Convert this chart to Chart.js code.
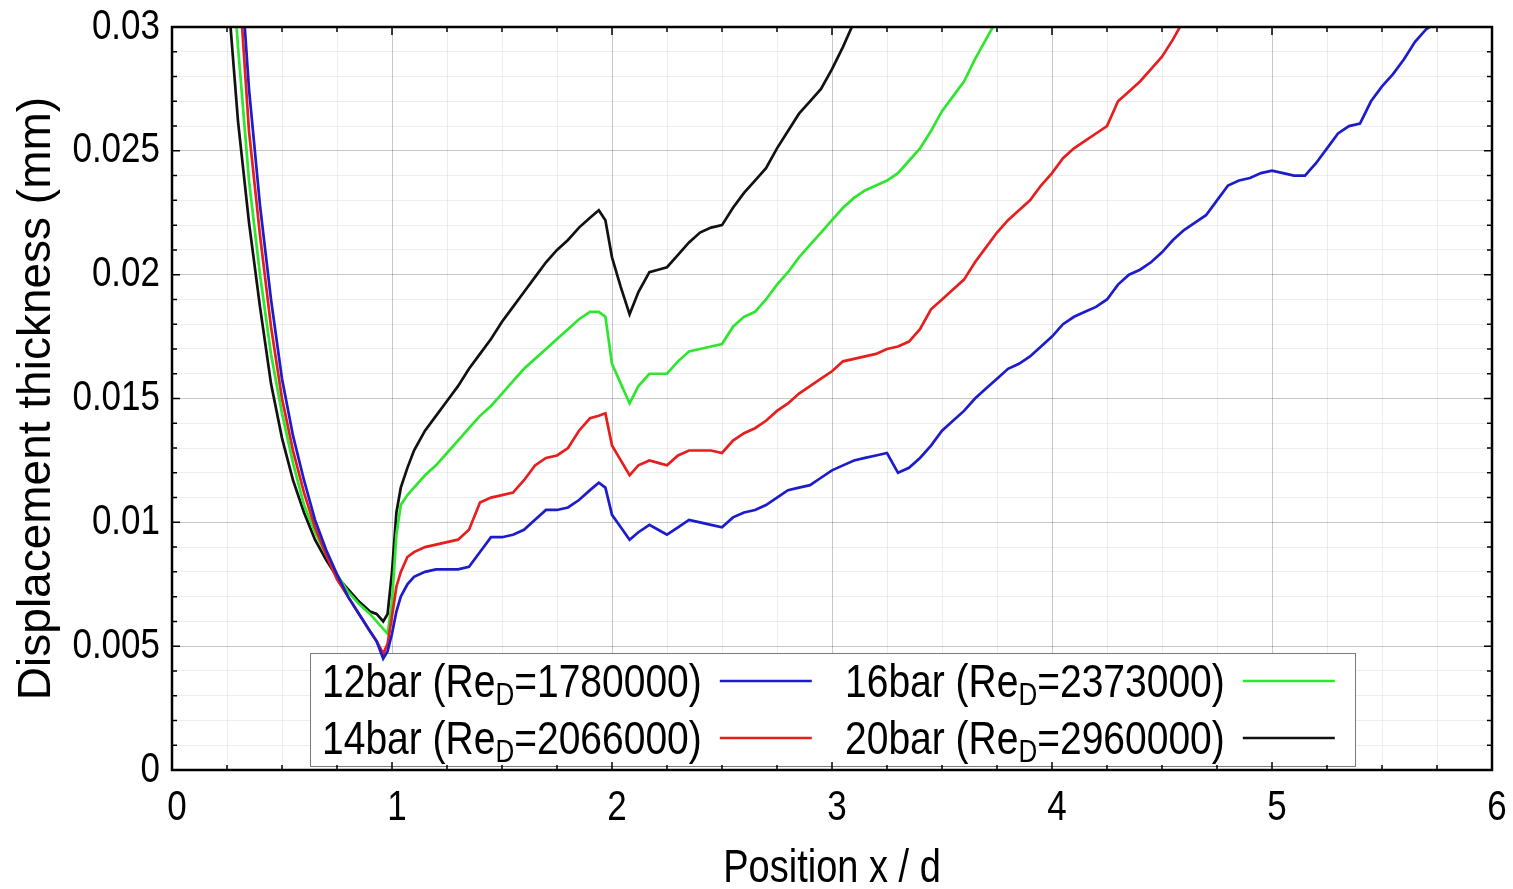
<!DOCTYPE html>
<html>
<head>
<meta charset="utf-8">
<script src="https://cdn.jsdelivr.net/npm/chart.js@4.4.1/dist/chart.umd.min.js"></script>
<style>
  html, body { margin: 0; padding: 0; background: #fff; }
  canvas { display: block; }
</style>
</head>
<body>
<canvas id="chart" width="1513" height="889"></canvas>
<script>
// x / d sample positions shared by all four runs
const positions = [
  0.25, 0.30, 0.35, 0.40, 0.45, 0.50, 0.55, 0.60, 0.65, 0.70, 0.75, 0.80, 0.85, 0.90,
  0.93, 0.96, 0.98, 1.00, 1.02, 1.04, 1.07, 1.10,
  1.15, 1.20, 1.25, 1.30, 1.35, 1.40, 1.45, 1.50, 1.55, 1.60, 1.65, 1.70, 1.75, 1.80, 1.85, 1.90,
  1.94, 1.97, 2.00, 2.04, 2.08, 2.12, 2.17, 2.21,
  2.25, 2.30, 2.35, 2.40, 2.45, 2.50, 2.55, 2.60, 2.65, 2.70,
  2.75, 2.80, 2.85, 2.90, 2.95, 3.00, 3.05, 3.10, 3.15, 3.20,
  3.25, 3.30, 3.35, 3.40, 3.45, 3.50, 3.55, 3.60, 3.65, 3.70,
  3.75, 3.80, 3.85, 3.90, 3.95, 4.00, 4.05, 4.10, 4.15, 4.20,
  4.25, 4.30, 4.35, 4.40, 4.45, 4.50, 4.55, 4.60, 4.65, 4.70,
  4.75, 4.80, 4.85, 4.90, 4.95, 5.00, 5.05, 5.10, 5.15, 5.20,
  5.25, 5.30, 5.35, 5.40, 5.45, 5.50, 5.55, 5.60, 5.65, 5.70,
  5.75
];

// displacement thickness (mm); each run stops once it leaves the top of the plot
const thickness12bar = [
  0.0420, 0.0340, 0.0275, 0.0228, 0.0190, 0.0158, 0.0135, 0.0117, 0.0101, 0.0089, 0.0079, 0.0070, 0.0063, 0.0056,
  0.0052, 0.0045, 0.0048, 0.0055, 0.0064, 0.0070, 0.0075, 0.0078,
  0.0080, 0.0081, 0.0081, 0.0081, 0.0082, 0.0088, 0.0094, 0.0094, 0.0095, 0.0097, 0.0101, 0.0105, 0.0105, 0.0106, 0.0109, 0.0113,
  0.0116, 0.0114, 0.0103, 0.0098, 0.0093, 0.0096, 0.0099, 0.0097,
  0.0095, 0.0098, 0.0101, 0.0100, 0.0099, 0.0098, 0.0102, 0.0104, 0.0105, 0.0107,
  0.0110, 0.0113, 0.0114, 0.0115, 0.0118, 0.0121, 0.0123, 0.0125, 0.0126, 0.0127,
  0.0128, 0.0120, 0.0122, 0.0126, 0.0131, 0.0137, 0.0141, 0.0145, 0.0150, 0.0154,
  0.0158, 0.0162, 0.0164, 0.0167, 0.0171, 0.0175, 0.0180, 0.0183, 0.0185, 0.0187,
  0.0190, 0.0196, 0.0200, 0.0202, 0.0205, 0.0209, 0.0214, 0.0218, 0.0221, 0.0224,
  0.0230, 0.0236, 0.0238, 0.0239, 0.0241, 0.0242, 0.0241, 0.0240, 0.0240, 0.0245,
  0.0251, 0.0257, 0.0260, 0.0261, 0.0270, 0.0276, 0.0281, 0.0287, 0.0294, 0.0299,
  0.0302
];
const thickness14bar = [
  0.0400, 0.0325, 0.0258, 0.0216, 0.0179, 0.0150, 0.0129, 0.0112, 0.0098, 0.0087, 0.0077, 0.0070, 0.0063, 0.0056,
  0.0052, 0.0047, 0.0051, 0.0062, 0.0074, 0.0080, 0.0086, 0.0088,
  0.0090, 0.0091, 0.0092, 0.0093, 0.0097, 0.0108, 0.0110, 0.0111, 0.0112, 0.0117, 0.0123, 0.0126, 0.0127, 0.0130, 0.0137, 0.0142,
  0.0143, 0.0144, 0.0131, 0.0125, 0.0119, 0.0123, 0.0125, 0.0124,
  0.0123, 0.0127, 0.0129, 0.0129, 0.0129, 0.0128, 0.0133, 0.0136, 0.0138, 0.0141,
  0.0145, 0.0148, 0.0152, 0.0155, 0.0158, 0.0161, 0.0165, 0.0166, 0.0167, 0.0168,
  0.0170, 0.0171, 0.0173, 0.0178, 0.0186, 0.0190, 0.0194, 0.0198, 0.0205, 0.0211,
  0.0217, 0.0222, 0.0226, 0.0230, 0.0236, 0.0241, 0.0247, 0.0251, 0.0254, 0.0257,
  0.0260, 0.0270, 0.0274, 0.0278, 0.0283, 0.0288, 0.0295, 0.0303
];
const thickness16bar = [
  0.0355, 0.0292, 0.0238, 0.0200, 0.0168, 0.0144, 0.0124, 0.0107, 0.0096, 0.0087, 0.0079, 0.0072, 0.0067, 0.0063,
  0.0060, 0.0057, 0.0055, 0.0068, 0.0095, 0.0107, 0.0111, 0.0114,
  0.0119, 0.0123, 0.0128, 0.0133, 0.0138, 0.0143, 0.0147, 0.0152, 0.0157, 0.0162, 0.0166, 0.0170, 0.0174, 0.0178, 0.0182, 0.0185,
  0.0185, 0.0183, 0.0164, 0.0156, 0.0148, 0.0155, 0.0160, 0.0160,
  0.0160, 0.0165, 0.0169, 0.0170, 0.0171, 0.0172, 0.0179, 0.0183, 0.0185, 0.0190,
  0.0196, 0.0201, 0.0207, 0.0212, 0.0217, 0.0222, 0.0227, 0.0231, 0.0234, 0.0236,
  0.0238, 0.0241, 0.0246, 0.0251, 0.0258, 0.0266, 0.0272, 0.0278, 0.0287, 0.0295,
  0.0303
];
const thickness20bar = [
  0.0318, 0.0262, 0.0221, 0.0187, 0.0156, 0.0134, 0.0117, 0.0104, 0.0093, 0.0085, 0.0078, 0.0073, 0.0068, 0.0064,
  0.0063, 0.0060, 0.0063, 0.0080, 0.0104, 0.0114, 0.0122, 0.0129,
  0.0137, 0.0143, 0.0149, 0.0155, 0.0162, 0.0168, 0.0174, 0.0181, 0.0187, 0.0193, 0.0199, 0.0205, 0.0210, 0.0214, 0.0219, 0.0223,
  0.0226, 0.0222, 0.0207, 0.0195, 0.0184, 0.0193, 0.0201, 0.0202,
  0.0203, 0.0208, 0.0213, 0.0217, 0.0219, 0.0220, 0.0227, 0.0233, 0.0238, 0.0243,
  0.0251, 0.0258, 0.0265, 0.0270, 0.0275, 0.0283, 0.0292, 0.0302
];

const seriesNames = ['12bar', '14bar', '16bar', '20bar'];
const reynolds = ['1780000', '2066000', '2373000', '2960000'];
const seriesValues = [thickness12bar, thickness14bar, thickness16bar, thickness20bar];
const lineColors = ['#1c1ccc', '#e61e1e', '#2fe62f', '#111111'];
const xTitle = 'Position x / d';
const yTitle = 'Displacement thickness (mm)';

const font = '"Liberation Sans", Arial, sans-serif';
const STRETCH = 1.2; // the source figure's lettering is drawn tall

const isMajorY = v => Math.abs(v * 200 - Math.round(v * 200)) < 1e-6;
const fmtY = v => String(Math.round(v * 1000) / 1000);

function tallText(ctx, text, x, y, size, align, baseline) {
  ctx.save();
  ctx.translate(x, y);
  ctx.scale(1, STRETCH);
  ctx.font = size + 'px ' + font;
  ctx.textAlign = align;
  ctx.textBaseline = baseline;
  ctx.fillText(text, 0, 0);
  const w = ctx.measureText(text).width;
  ctx.restore();
  return w;
}

// boxed legend with subscript D, drawn under the curves
const boxLegend = {
  id: 'boxLegend',
  beforeDatasetsDraw(chart) {
    const { ctx, chartArea: a } = chart;
    const left = a.left + 138, top = a.bottom - 117, w = 1045, h = 113;
    ctx.save();
    ctx.fillStyle = '#fff';
    ctx.fillRect(left, top, w, h);
    ctx.strokeStyle = '#7a7a7a';
    ctx.lineWidth = 1;
    ctx.strokeRect(left + 0.5, top + 0.5, w, h);
    ctx.fillStyle = '#000';
    chart.data.datasets.forEach((ds, i) => {
      const col = Math.floor(i / 2), row = i % 2;
      let tx = left + 12 + col * 523;
      const base = top + 44 + row * 57;
      tx += tallText(ctx, seriesNames[i] + ' (Re', tx, base, 39, 'left', 'alphabetic');
      tx += tallText(ctx, 'D', tx, base + 8, 26, 'left', 'alphabetic');
      tx += tallText(ctx, '=' + reynolds[i] + ')', tx, base, 39, 'left', 'alphabetic');
      ctx.strokeStyle = ds.borderColor;
      ctx.lineWidth = 2.5;
      ctx.beginPath();
      ctx.moveTo(tx + 18, base - 16);
      ctx.lineTo(tx + 110, base - 16);
      ctx.stroke();
    });
    ctx.restore();
  }
};

// frame with inward ticks on all four sides
const frame = {
  id: 'frame',
  afterDatasetsDraw(chart) {
    const { ctx, chartArea: a, scales: { x, y } } = chart;
    ctx.save();
    ctx.strokeStyle = '#000';
    ctx.lineWidth = 1.5;
    ctx.beginPath();
    x.ticks.forEach(t => {
      const px = x.getPixelForValue(t.value);
      const len = Number.isInteger(t.value) ? 8 : 5;
      ctx.moveTo(px, a.bottom); ctx.lineTo(px, a.bottom - len);
      ctx.moveTo(px, a.top); ctx.lineTo(px, a.top + len);
    });
    y.ticks.forEach(t => {
      const py = y.getPixelForValue(t.value);
      const len = isMajorY(t.value) ? 8 : 5;
      ctx.moveTo(a.left, py); ctx.lineTo(a.left + len, py);
      ctx.moveTo(a.right, py); ctx.lineTo(a.right - len, py);
    });
    ctx.stroke();
    ctx.lineWidth = 2.5;
    ctx.strokeRect(a.left, a.top, a.right - a.left, a.bottom - a.top);
    ctx.restore();
  }
};

// tick labels and x title, in the tall lettering of the source
const axisText = {
  id: 'axisText',
  afterDraw(chart) {
    const { ctx, chartArea: a, scales: { x, y } } = chart;
    ctx.save();
    ctx.fillStyle = '#000';
    y.ticks.filter(t => isMajorY(t.value)).forEach(t => {
      tallText(ctx, fmtY(t.value), a.left - 12, y.getPixelForValue(t.value), 35, 'right', 'middle');
    });
    x.ticks.filter(t => Number.isInteger(t.value)).forEach(t => {
      tallText(ctx, String(t.value), x.getPixelForValue(t.value) + 5, a.bottom + 38, 35, 'center', 'middle');
    });
    tallText(ctx, xTitle, (a.left + a.right) / 2, a.bottom + 112, 38, 'center', 'alphabetic');
    ctx.restore();
  }
};

new Chart(document.getElementById('chart'), {
  type: 'line',
  data: {
    datasets: seriesNames.map((name, i) => ({
      label: name + ' (ReD=' + reynolds[i] + ')',
      data: seriesValues[i].map((v, k) => ({ x: positions[k], y: v })),
      borderColor: lineColors[i],
      borderWidth: 2.7,
      pointRadius: 0,
      fill: false,
      tension: 0
    }))
  },
  options: {
    responsive: false,
    animation: false,
    layout: { padding: { top: 27, right: 21, left: 0, bottom: 0 }, autoPadding: false },
    plugins: { legend: { display: false }, tooltip: { enabled: false } },
    scales: {
      x: {
        type: 'linear', min: 0, max: 6,
        ticks: { stepSize: 0.25, autoSkip: false, maxRotation: 0, display: false },
        grid: {
          drawTicks: false, lineWidth: 1,
          color: c => Number.isInteger(c.tick.value) ? 'rgba(0,0,0,0.22)' : 'rgba(0,0,0,0.07)'
        },
        border: { display: false },
        title: { display: false, text: xTitle },
        afterFit: s => { s.height = 119; }
      },
      y: {
        type: 'linear', min: 0, max: 0.03,
        ticks: { stepSize: 0.001, autoSkip: false, display: false },
        grid: {
          drawTicks: false, lineWidth: 1,
          color: c => isMajorY(c.tick.value) ? 'rgba(0,0,0,0.22)' : 'rgba(0,0,0,0.07)'
        },
        border: { display: false },
        title: {
          display: true, text: yTitle, color: '#000',
          padding: { top: 10, bottom: 0 },
          font: { family: font, size: 46, lineHeight: 1.2 }
        },
        afterFit: s => { s.width = 172; }
      }
    }
  },
  plugins: [boxLegend, frame, axisText]
});
</script>
</body>
</html>
